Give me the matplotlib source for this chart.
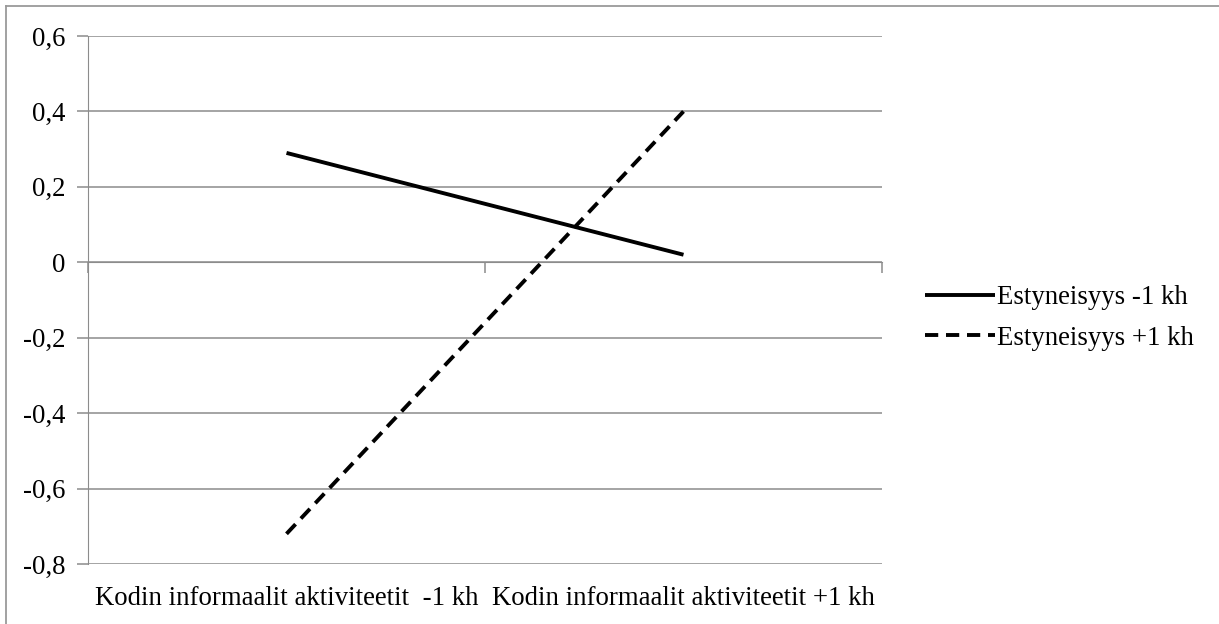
import matplotlib
matplotlib.use("Agg")
import matplotlib.pyplot as plt
from matplotlib.lines import Line2D
from matplotlib.ticker import FuncFormatter

categories = ["Kodin informaalit aktiviteetit  -1 kh", "Kodin informaalit aktiviteetit +1 kh"]
series_names = ["Estyneisyys -1 kh", "Estyneisyys +1 kh"]
low_values = [0.29, 0.02]
high_values = [-0.72, 0.40]
y_ticks = [0.6, 0.4, 0.2, 0.0, -0.2, -0.4, -0.6, -0.8]

plt.rcParams["font.family"] = ["Liberation Serif", "DejaVu Serif"]
grid_col = "#8c8c8c"
fs = 19.3

fig = plt.figure(figsize=(12.19, 6.24), dpi=100)
W, H = 1219, 624
ax = fig.add_axes([88 / W, 1 - 564 / H, (882 - 88) / W, (564 - 36) / H])

x = list(range(len(categories)))
ax.plot(x, low_values, color="black", lw=2.8, solid_capstyle="butt", label=series_names[0])
ax.plot(x, high_values, color="black", lw=2.8, linestyle=(0, (3.4, 2.0)),
        dash_capstyle="butt", label=series_names[1])

ax.set_xlim(-0.5, len(categories) - 0.5)
ax.set_ylim(-0.8, 0.6)
ax.set_yticks(y_ticks)
ax.yaxis.set_major_formatter(FuncFormatter(lambda v, p: ("%g" % round(v, 1)).replace(".", ",")))
ax.grid(axis="y", color=grid_col, lw=1.1)
ax.set_axisbelow(True)

for s in ["top", "right"]:
    ax.spines[s].set_visible(False)
ax.spines["left"].set_color(grid_col)
ax.spines["bottom"].set_color(grid_col)
ax.spines["bottom"].set_position(("data", 0))
ax.set_xticks([-0.5, 0.5, 1.5])
ax.set_xticklabels([])
ax.tick_params(axis="x", direction="out", length=8, color=grid_col, width=1.1)
ax.tick_params(axis="y", direction="out", length=8, color=grid_col, width=1.1,
               labelsize=fs, pad=8.5)

for i, c in enumerate(categories):
    ax.text(i, -0.065, c, transform=ax.get_xaxis_transform(), ha="center", va="center",
            fontsize=fs)

fig.legend(loc="center left", bbox_to_anchor=(925 / W, 1 - 318 / H), frameon=False,
           fontsize=fs, handlelength=2.6, handletextpad=0.07, labelspacing=0.58,
           borderaxespad=0, borderpad=0)

fig.add_artist(Line2D([6 / W, 6 / W], [0, 1 - 6 / H], transform=fig.transFigure,
                      color="#9a9a9a", lw=1.3))
fig.add_artist(Line2D([6 / W, 1], [1 - 6 / H, 1 - 6 / H], transform=fig.transFigure,
                      color="#9a9a9a", lw=1.3))

fig.savefig("out.png", dpi=100, facecolor="white")
